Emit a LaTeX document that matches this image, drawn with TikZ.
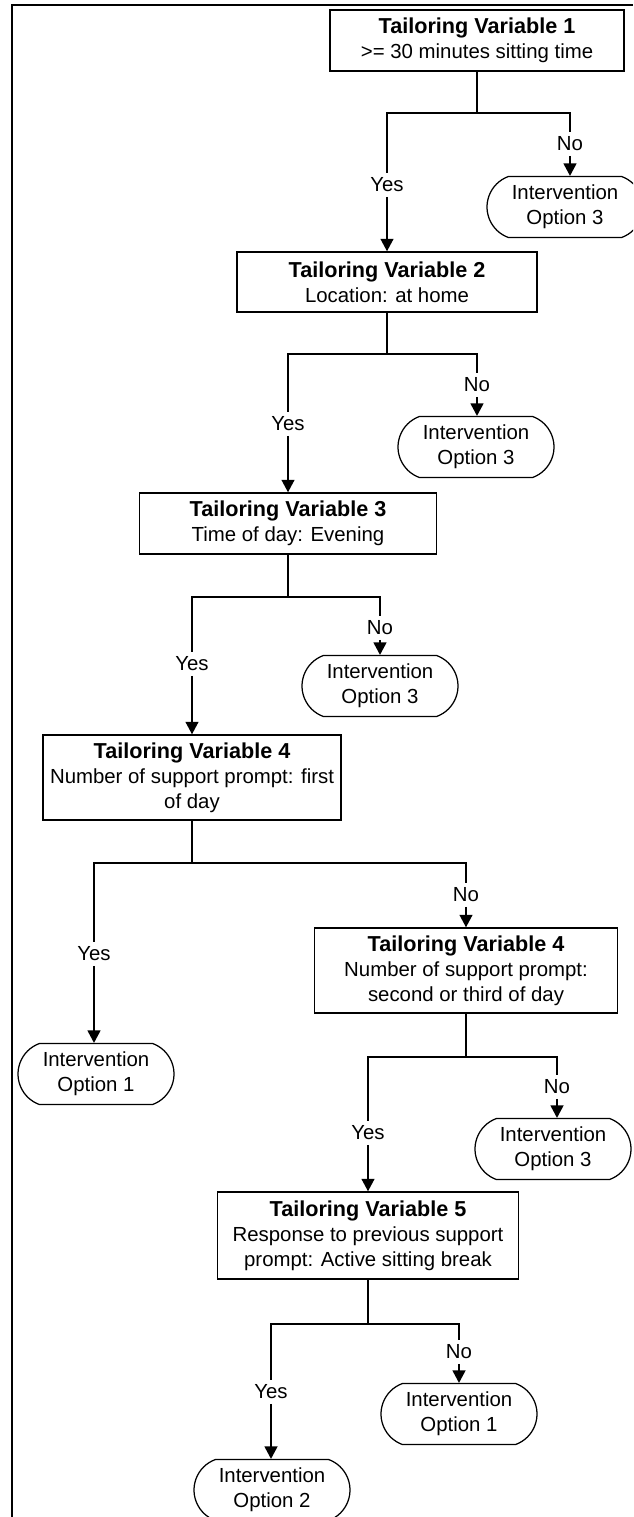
\documentclass[tikz,border=0pt]{standalone}
\usepackage{fontspec}
\setmainfont{Liberation Sans}
\usetikzlibrary{arrows.meta,positioning,shapes.misc}

\newcommand\tvtitle[1]{{\fontsize{12.3}{14.2}\selectfont\textbf{#1}}}

\tikzset{
  varbox/.style={draw,line width=0.03cm,align=center,inner sep=0pt,
    font=\fontsize{11.6}{14.2}\selectfont},
  termbox/.style={draw,rounded rectangle,rounded rectangle arc length=140,
    line width=0.025cm,align=center,inner sep=0pt,minimum width=3.12cm,
    minimum height=1.22cm,font=\fontsize{11.6}{14.2}\selectfont},
  lbl/.style={inner sep=0.08cm,font=\fontsize{11.6}{14.2}\selectfont},
  arr/.style={-{Triangle[length=0.25cm,width=0.26cm]}}
}

\begin{document}
\begin{tikzpicture}[x=0.02cm,y=-0.02cm,line width=0.028cm]
  \useasboundingbox (0,0) rectangle (633,1517);
  \clip (0,0) rectangle (633,1517);

  % frame
  \draw [line width=0.04cm] (12,1517) -- (12,5) -- (633,5);

  % Tailoring variable 1
  \node[varbox,minimum width=5.88cm,minimum height=1.22cm] (tv1) at (477,40.5)
    {\tvtitle{Tailoring Variable 1}\\>= 30 minutes sitting time};
  \coordinate (j1) at (477,113);
  \node[lbl] (yes1) at (387,185) {Yes};
  \node[lbl] (no1) at (570,144) {No};
  \node[termbox] (t1) at (565,207) {Intervention\\Option 3};

  % Tailoring variable 2
  \node[varbox,minimum width=6cm,minimum height=1.2cm] (tv2) at (387,282)
    {\tvtitle{Tailoring Variable 2}\\Location: at home};
  \coordinate (j2) at (387,354);
  \node[lbl] (yes2) at (288,424) {Yes};
  \node[lbl] (no2) at (477,385) {No};
  \node[termbox] (t2) at (476,447) {Intervention\\Option 3};

  % Tailoring variable 3
  \node[varbox,minimum width=5.94cm,minimum height=1.22cm] (tv3) at (288,523.5)
    {\tvtitle{Tailoring Variable 3}\\Time of day: Evening};
  \coordinate (j3) at (288,597);
  \node[lbl] (yes3) at (192,664) {Yes};
  \node[lbl] (no3) at (380,628) {No};
  \node[termbox] (t3) at (380,686) {Intervention\\Option 3};

  % Tailoring variable 4 (first)
  \node[varbox,minimum width=5.96cm,minimum height=1.7cm] (tv4) at (192,777.5)
    {\tvtitle{Tailoring Variable 4}\\Number of support prompt: first\\of day};
  \coordinate (j4) at (192,863);
  \node[lbl] (yes4) at (94,954) {Yes};
  \node[lbl] (no4) at (466,895) {No};
  \node[termbox] (t4) at (96,1074) {Intervention\\Option 1};

  % Tailoring variable 4 (second or third)
  \node[varbox,minimum width=6.06cm,minimum height=1.7cm] (tv4b) at (466,970.5)
    {\tvtitle{Tailoring Variable 4}\\Number of support prompt:\\second or third of day};
  \coordinate (j5) at (466,1057);
  \node[lbl] (yes5) at (368,1133) {Yes};
  \node[lbl] (no5) at (557,1087) {No};
  \node[termbox] (t5) at (553,1149) {Intervention\\Option 3};

  % Tailoring variable 5
  \node[varbox,minimum width=6.02cm,minimum height=1.74cm] (tv5) at (368,1235.5)
    {\tvtitle{Tailoring Variable 5}\\Response to previous support\\prompt: Active sitting break};
  \coordinate (j6) at (368,1324);
  \node[lbl] (yes6) at (271,1392) {Yes};
  \node[lbl] (no6) at (459,1352) {No};
  \node[termbox] (t6) at (459,1414) {Intervention\\Option 1};
  \node[termbox] (t7) at (272,1490) {Intervention\\Option 2};

  % branches
  \draw (tv1.south) -- (j1);
  \draw (j1) -| (yes1.north);
  \draw [arr] (yes1.south) -- (tv2.north);
  \draw (j1) -| (no1.north);
  \draw [arr] (no1.south) -- (no1.south |- t1.north);

  \draw (tv2.south) -- (j2);
  \draw (j2) -| (yes2.north);
  \draw [arr] (yes2.south) -- (tv3.north);
  \draw (j2) -| (no2.north);
  \draw [arr] (no2.south) -- (no2.south |- t2.north);

  \draw (tv3.south) -- (j3);
  \draw (j3) -| (yes3.north);
  \draw [arr] (yes3.south) -- (tv4.north);
  \draw (j3) -| (no3.north);
  \draw [arr] (no3.south) -- (no3.south |- t3.north);

  \draw (tv4.south) -- (j4);
  \draw (j4) -| (yes4.north);
  \draw [arr] (yes4.south) -- (yes4.south |- t4.north);
  \draw (j4) -| (no4.north);
  \draw [arr] (no4.south) -- (tv4b.north);

  \draw (tv4b.south) -- (j5);
  \draw (j5) -| (yes5.north);
  \draw [arr] (yes5.south) -- (tv5.north);
  \draw (j5) -| (no5.north);
  \draw [arr] (no5.south) -- (no5.south |- t5.north);

  \draw (tv5.south) -- (j6);
  \draw (j6) -| (yes6.north);
  \draw [arr] (yes6.south) -- (yes6.south |- t7.north);
  \draw (j6) -| (no6.north);
  \draw [arr] (no6.south) -- (t6.north);
\end{tikzpicture}
\end{document}
